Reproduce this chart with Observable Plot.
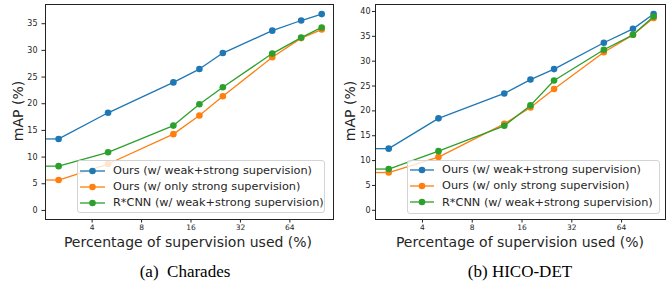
<!DOCTYPE html>
<html>
<head>
<meta charset="utf-8">
<script src="https://cdn.jsdelivr.net/npm/d3@7"></script>
<script src="https://cdn.jsdelivr.net/npm/@observablehq/plot@0.6"></script>
<style>
  html, body { margin: 0; padding: 0; background: #fff; }
  #root { position: relative; width: 669px; height: 283px; overflow: hidden; background: #fff; font-family: "DejaVu Sans", sans-serif; color: #262626; }
  .panel { position: absolute; top: 0; }
  .ylab { position: absolute; font-size: 14px; white-space: nowrap; transform: translate(-50%, -50%) rotate(-90deg); }
  .xlab { position: absolute; font-size: 14px; white-space: nowrap; transform: translate(-50%, -50%); }
  .cap { position: absolute; font-family: "Liberation Serif", "Times New Roman", serif; font-size: 17px; white-space: pre; transform: translate(-50%, -50%); color: #000; }
  .legend { position: absolute; background: rgba(255,255,255,0.8); border: 1px solid #d4d4d4; border-radius: 3px; box-sizing: border-box; }
  .lrow { position: absolute; left: 0; height: 12px; display: flex; align-items: center; font-size: 11.3px; white-space: nowrap; }
  .lrow svg { flex: none; }
</style>
</head>
<body>
<div id="root"></div>
<script>
// ---- data ----
const xValues = [2.5, 5, 12.5, 18, 25, 50, 75, 100];
const xTickLabels = [4, 8, 16, 32, 64];
const seriesNames = [
  "Ours (w/ weak+strong supervision)",
  "Ours (w/ only strong supervision)",
  "R*CNN (w/ weak+strong supervision)"
];
const seriesColors = ["#1f77b4", "#ff7f0e", "#2ca02c"];

const charadesWeakStrong = [13.4, 18.3, 24.0, 26.5, 29.5, 33.7, 35.6, 36.8];
const charadesStrongOnly = [5.7, 8.7, 14.3, 17.8, 21.4, 28.7, 32.3, 33.9];
const charadesRCNN       = [8.3, 10.9, 15.9, 19.9, 23.1, 29.4, 32.4, 34.3];

const hicoWeakStrong = [12.4, 18.5, 23.5, 26.3, 28.4, 33.7, 36.5, 39.5];
const hicoStrongOnly = [7.6, 10.7, 17.4, 20.7, 24.4, 31.8, 35.3, 38.7];
const hicoRCNN       = [8.3, 11.9, 17.0, 21.1, 26.1, 32.3, 35.3, 39.0];

const yTicksCharades = [0, 5, 10, 15, 20, 25, 30, 35];
const yTicksHico = [0, 5, 10, 15, 20, 25, 30, 35, 40];

const xLabel = "Percentage of supervision used (%)";
const yLabel = "mAP (%)";
const captions = ["(a)  Charades", "(b) HICO-DET"];

// ---- layout ----
const xDomain = [2.08, 118];
const panels = [
  { left: 0, width: 335, marginLeft: 45, marginRight: 2, yDomain: [-1.7, 38.6], yTicks: yTicksCharades,
    series: [charadesWeakStrong, charadesStrongOnly, charadesRCNN], tickPad: 4.5, tickLen: 3.5,
    ylabX: 18, xlabX: 188, capX: 185,
    legend: { left: 77, top: 160, width: 248, height: 53, rows: [170.7, 186.7, 202.7], handleX: 80, textX: 113 } },
  { left: 335, width: 334, marginLeft: 40, marginRight: 4, yDomain: [-1.85, 41.4], yTicks: yTicksHico,
    series: [hicoWeakStrong, hicoStrongOnly, hicoRCNN], tickPad: 2, tickLen: 3,
    ylabX: 350, xlabX: 520, capX: 520,
    legend: { left: 407, top: 160, width: 253, height: 54, rows: [169.7, 185.7, 202], handleX: 410, textX: 442 } }
];

const root = document.getElementById("root");

panels.forEach((p, pi) => {
  const marks = [];
  p.series.forEach((vals, si) => {
    const rows = xValues.map((x, i) => ({ x, y: vals[i] }));
    // flat lead-in from the left edge to the first measured point
    marks.push(Plot.ruleY([vals[0]], { x1: xDomain[0], x2: xValues[0], stroke: seriesColors[si], strokeWidth: 1.3 }));
    marks.push(Plot.line(rows, { x: "x", y: "y", stroke: seriesColors[si], strokeWidth: 1.3 }));
    marks.push(Plot.dot(rows, { x: "x", y: "y", fill: seriesColors[si], r: 3.3 }));
  });
  marks.push(Plot.axisX(xTickLabels, { tickSize: 3.5, tickPadding: 2, fontSize: 7.5, tickFormat: d => String(d), label: null, stroke: "#222" }));
  marks.push(Plot.axisY(p.yTicks, { tickSize: p.tickLen, tickPadding: p.tickPad, fontSize: 8, tickFormat: d => String(d), label: null, stroke: "#222" }));
  marks.push(Plot.frame({ stroke: "#222", strokeWidth: 1 }));

  const chart = Plot.plot({
    width: p.width,
    height: 236,
    marginLeft: p.marginLeft,
    marginRight: p.marginRight,
    marginTop: 4,
    marginBottom: 17,
    style: { fontFamily: "DejaVu Sans", color: "#262626", background: "transparent", overflow: "visible" },
    x: { type: "log", base: 2, domain: xDomain },
    y: { domain: p.yDomain },
    marks
  });
  chart.classList.add("panel");
  chart.style.left = p.left + "px";
  root.appendChild(chart);

  // legend
  const lg = document.createElement("div");
  lg.className = "legend";
  Object.assign(lg.style, { left: p.legend.left + "px", top: p.legend.top + "px", width: p.legend.width + "px", height: p.legend.height + "px" });
  root.appendChild(lg);
  seriesNames.forEach((name, si) => {
    const row = document.createElement("div");
    row.className = "lrow";
    row.style.left = p.legend.handleX + "px";
    row.style.top = (p.legend.rows[si] - 6) + "px";
    const hw = p.legend.textX - p.legend.handleX;
    row.innerHTML = `<svg width="${hw}" height="12"><line x1="0" x2="${hw - 8}" y1="6" y2="6" stroke="${seriesColors[si]}" stroke-width="1.3"/><circle cx="${(hw - 8) / 2}" cy="6" r="3.3" fill="${seriesColors[si]}"/></svg><span>${name}</span>`;
    root.appendChild(row);
  });

  const yl = document.createElement("div");
  yl.className = "ylab"; yl.textContent = yLabel;
  yl.style.left = p.ylabX + "px"; yl.style.top = "111px";
  root.appendChild(yl);

  const xl = document.createElement("div");
  xl.className = "xlab"; xl.textContent = xLabel;
  xl.style.left = p.xlabX + "px"; xl.style.top = "242px";
  root.appendChild(xl);

  const cp = document.createElement("div");
  cp.className = "cap"; cp.textContent = captions[pi];
  cp.style.left = p.capX + "px"; cp.style.top = "271.5px";
  root.appendChild(cp);
});
</script>
</body>
</html>
